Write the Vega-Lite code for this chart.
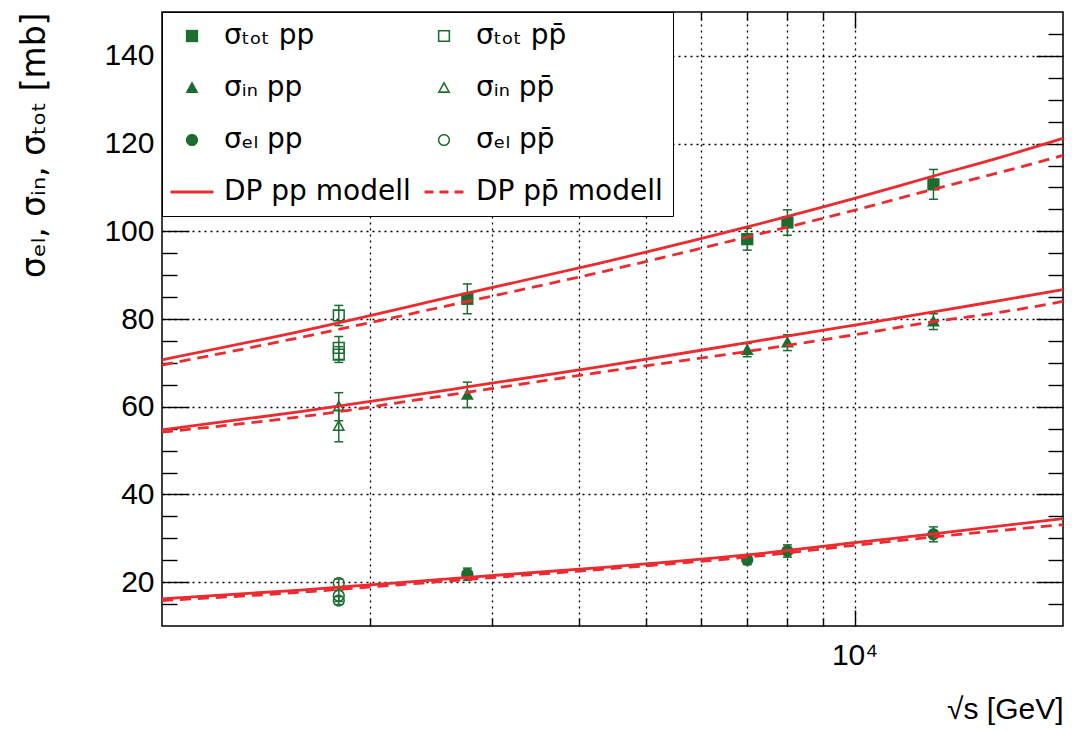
{
  "$schema": "https://vega.github.io/schema/vega-lite/v6.json",
  "width": 901,
  "height": 614,
  "autosize": "none",
  "padding": {"left": 162, "top": 12, "right": 9, "bottom": 105},
  "background": "white",
  "config": {
    "view": {"stroke": "black", "strokeWidth": 1.5},
    "font": "Liberation Sans",
    "axis": {
      "domain": false,
      "labelFont": "Liberation Sans",
      "labelFontSize": 30,
      "labelColor": "black",
      "tickColor": "black",
      "tickWidth": 1.4,
      "gridColor": "black",
      "gridDash": [2, 4],
      "gridWidth": 1.3,
      "gridOpacity": 1,
      "titleFont": "Liberation Sans",
      "titleFontWeight": "normal",
      "titleColor": "black"
    }
  },
  "resolve": {"axis": {"x": "independent", "y": "independent"}},
  "datasets": {
    "points": [
      {"series": "\u03c3\u209c\u2092\u209c pp", "coll": "pp", "s": 2760, "sigma": 84.6, "lo": 81.2, "hi": 88.0},
      {"series": "\u03c3\u209c\u2092\u209c pp", "coll": "pp", "s": 7000, "sigma": 98.2, "lo": 95.7, "hi": 100.7},
      {"series": "\u03c3\u209c\u2092\u209c pp", "coll": "pp", "s": 8000, "sigma": 102.0, "lo": 99.1, "hi": 104.9},
      {"series": "\u03c3\u209c\u2092\u209c pp", "coll": "pp", "s": 13000, "sigma": 110.7, "lo": 107.3, "hi": 114.1},
      {"series": "\u03c3\u209c\u2092\u209c pp\u0304", "coll": "ppbar", "s": 1800, "sigma": 80.8, "lo": 78.5, "hi": 83.1},
      {"series": "\u03c3\u209c\u2092\u209c pp\u0304", "coll": "ppbar", "s": 1800, "sigma": 73.4, "lo": 70.8, "hi": 76.0},
      {"series": "\u03c3\u209c\u2092\u209c pp\u0304", "coll": "ppbar", "s": 1800, "sigma": 71.9, "lo": 70.1, "hi": 73.7},
      {"series": "\u03c3\u1d62\u2099 pp", "coll": "pp", "s": 2760, "sigma": 62.7, "lo": 59.8, "hi": 65.6},
      {"series": "\u03c3\u1d62\u2099 pp", "coll": "pp", "s": 7000, "sigma": 72.9, "lo": 71.4, "hi": 74.4},
      {"series": "\u03c3\u1d62\u2099 pp", "coll": "pp", "s": 8000, "sigma": 74.6, "lo": 72.8, "hi": 76.4},
      {"series": "\u03c3\u1d62\u2099 pp", "coll": "pp", "s": 13000, "sigma": 79.4, "lo": 77.6, "hi": 81.2},
      {"series": "\u03c3\u1d62\u2099 pp\u0304", "coll": "ppbar", "s": 1800, "sigma": 60.0, "lo": 56.8, "hi": 63.2},
      {"series": "\u03c3\u1d62\u2099 pp\u0304", "coll": "ppbar", "s": 1800, "sigma": 55.6, "lo": 52.0, "hi": 59.2},
      {"series": "\u03c3\u2091\u2097 pp", "coll": "pp", "s": 2760, "sigma": 21.8, "lo": 20.4, "hi": 23.2},
      {"series": "\u03c3\u2091\u2097 pp", "coll": "pp", "s": 7000, "sigma": 25.1, "lo": 24.0, "hi": 26.2},
      {"series": "\u03c3\u2091\u2097 pp", "coll": "pp", "s": 8000, "sigma": 27.1, "lo": 25.7, "hi": 28.5},
      {"series": "\u03c3\u2091\u2097 pp", "coll": "pp", "s": 13000, "sigma": 30.9, "lo": 29.2, "hi": 32.6},
      {"series": "\u03c3\u2091\u2097 pp\u0304", "coll": "ppbar", "s": 1800, "sigma": 19.8, "lo": 18.9, "hi": 20.7},
      {"series": "\u03c3\u2091\u2097 pp\u0304", "coll": "ppbar", "s": 1800, "sigma": 16.9, "lo": 15.6, "hi": 18.2},
      {"series": "\u03c3\u2091\u2097 pp\u0304", "coll": "ppbar", "s": 1800, "sigma": 15.8, "lo": 14.9, "hi": 16.7}
    ],
    "model": [
      {"coll": "pp", "q": "tot", "s": 1000, "sigma": 70.7},
      {"coll": "pp", "q": "tot", "s": 1585, "sigma": 77.2},
      {"coll": "pp", "q": "tot", "s": 2760, "sigma": 85.9},
      {"coll": "pp", "q": "tot", "s": 4276, "sigma": 92.7},
      {"coll": "pp", "q": "tot", "s": 7000, "sigma": 101.0},
      {"coll": "pp", "q": "tot", "s": 10000, "sigma": 107.5},
      {"coll": "pp", "q": "tot", "s": 13000, "sigma": 112.6},
      {"coll": "pp", "q": "tot", "s": 16200, "sigma": 116.8},
      {"coll": "pp", "q": "tot", "s": 20000, "sigma": 121.2},
      {"coll": "ppbar", "q": "tot", "s": 1000, "sigma": 69.5},
      {"coll": "ppbar", "q": "tot", "s": 1585, "sigma": 75.8},
      {"coll": "ppbar", "q": "tot", "s": 2760, "sigma": 84.0},
      {"coll": "ppbar", "q": "tot", "s": 4276, "sigma": 90.6},
      {"coll": "ppbar", "q": "tot", "s": 7000, "sigma": 98.7},
      {"coll": "ppbar", "q": "tot", "s": 10000, "sigma": 104.8},
      {"coll": "ppbar", "q": "tot", "s": 13000, "sigma": 109.6},
      {"coll": "ppbar", "q": "tot", "s": 16200, "sigma": 113.4},
      {"coll": "ppbar", "q": "tot", "s": 20000, "sigma": 117.3},
      {"coll": "pp", "q": "in", "s": 1000, "sigma": 54.7},
      {"coll": "pp", "q": "in", "s": 1585, "sigma": 58.9},
      {"coll": "pp", "q": "in", "s": 2760, "sigma": 64.5},
      {"coll": "pp", "q": "in", "s": 4276, "sigma": 69.1},
      {"coll": "pp", "q": "in", "s": 7000, "sigma": 74.6},
      {"coll": "pp", "q": "in", "s": 10000, "sigma": 78.6},
      {"coll": "pp", "q": "in", "s": 13000, "sigma": 81.6},
      {"coll": "pp", "q": "in", "s": 16200, "sigma": 84.2},
      {"coll": "pp", "q": "in", "s": 20000, "sigma": 86.7},
      {"coll": "ppbar", "q": "in", "s": 1000, "sigma": 54.2},
      {"coll": "ppbar", "q": "in", "s": 1585, "sigma": 57.7},
      {"coll": "ppbar", "q": "in", "s": 2760, "sigma": 63.3},
      {"coll": "ppbar", "q": "in", "s": 4276, "sigma": 67.8},
      {"coll": "ppbar", "q": "in", "s": 7000, "sigma": 72.6},
      {"coll": "ppbar", "q": "in", "s": 10000, "sigma": 76.4},
      {"coll": "ppbar", "q": "in", "s": 13000, "sigma": 79.4},
      {"coll": "ppbar", "q": "in", "s": 16200, "sigma": 81.5},
      {"coll": "ppbar", "q": "in", "s": 20000, "sigma": 84.0},
      {"coll": "pp", "q": "el", "s": 1000, "sigma": 16.2},
      {"coll": "pp", "q": "el", "s": 1585, "sigma": 18.2},
      {"coll": "pp", "q": "el", "s": 2000, "sigma": 19.4},
      {"coll": "pp", "q": "el", "s": 2760, "sigma": 21.1},
      {"coll": "pp", "q": "el", "s": 4450, "sigma": 23.5},
      {"coll": "pp", "q": "el", "s": 7000, "sigma": 26.2},
      {"coll": "pp", "q": "el", "s": 10000, "sigma": 29.0},
      {"coll": "pp", "q": "el", "s": 13000, "sigma": 31.0},
      {"coll": "pp", "q": "el", "s": 20000, "sigma": 34.5},
      {"coll": "ppbar", "q": "el", "s": 1000, "sigma": 15.8},
      {"coll": "ppbar", "q": "el", "s": 1585, "sigma": 17.7},
      {"coll": "ppbar", "q": "el", "s": 2000, "sigma": 18.9},
      {"coll": "ppbar", "q": "el", "s": 2760, "sigma": 20.6},
      {"coll": "ppbar", "q": "el", "s": 4450, "sigma": 23.1},
      {"coll": "ppbar", "q": "el", "s": 7000, "sigma": 25.7},
      {"coll": "ppbar", "q": "el", "s": 10000, "sigma": 28.4},
      {"coll": "ppbar", "q": "el", "s": 13000, "sigma": 30.3},
      {"coll": "ppbar", "q": "el", "s": 20000, "sigma": 33.1}
    ]
  },
  "layer": [
    {
      "data": {"name": "points"},
      "mark": {"type": "rule", "color": "#1b6d2f", "strokeWidth": 1.5},
      "encoding": {
        "x": {"field": "s", "type": "quantitative", "scale": {"type": "log", "domain": [1000, 20000], "nice": false},
          "axis": {"orient": "bottom", "values": [10000], "tickSize": -16, "labelExpr": "'10\u2074'", "labelPadding": 30, "grid": true,
            "title": "\u221as [GeV]", "titleAnchor": "end", "titleFontSize": 30, "titlePadding": 24}},
        "y": {"field": "lo", "type": "quantitative", "scale": {"domain": [10, 150], "nice": false, "zero": false},
          "axis": {"orient": "left", "values": [20, 40, 60, 80, 100, 120, 140], "tickSize": -27, "labelPadding": 35, "grid": true,
            "title": "\u03c3\u2091\u2097, \u03c3\u1d62\u2099, \u03c3\u209c\u2092\u209c [mb]", "titleFont": "DejaVu Sans", "titleAnchor": "end", "titleFontSize": 33, "titlePadding": 52}},
        "y2": {"field": "hi"}
      }
    },
    {
      "data": {"name": "points"},
      "mark": {"type": "tick", "orient": "horizontal", "color": "#1b6d2f", "size": 9, "thickness": 1.5, "opacity": 1},
      "encoding": {
        "x": {"field": "s", "type": "quantitative", "scale": {"type": "log", "domain": [1000, 20000], "nice": false},
          "axis": {"orient": "bottom", "values": [2000, 3000, 4000, 5000, 6000, 7000, 8000, 9000], "tickSize": -8, "labels": false, "grid": true, "title": null}},
        "y": {"field": "lo", "type": "quantitative", "scale": {"domain": [10, 150], "nice": false, "zero": false},
          "axis": {"orient": "left", "values": [15, 25, 30, 35, 45, 50, 55, 65, 70, 75, 85, 90, 95, 105, 110, 115, 125, 130, 135, 145], "tickSize": -15, "labels": false, "grid": false, "title": null}}
      }
    },
    {
      "data": {"name": "points"},
      "mark": {"type": "tick", "orient": "horizontal", "color": "#1b6d2f", "size": 9, "thickness": 1.5, "opacity": 1},
      "encoding": {
        "x": {"field": "s", "type": "quantitative", "scale": {"type": "log", "domain": [1000, 20000], "nice": false},
          "axis": {"orient": "top", "values": [10000], "tickSize": -16, "labels": false, "grid": false, "title": null}},
        "y": {"field": "hi", "type": "quantitative", "scale": {"domain": [10, 150], "nice": false, "zero": false},
          "axis": {"orient": "right", "values": [20, 40, 60, 80, 100, 120, 140], "tickSize": -27, "labels": false, "grid": false, "title": null}}
      }
    },
    {
      "data": {"name": "points"},
      "transform": [{"filter": "datum.coll == 'pp'"}],
      "mark": {"type": "point", "filled": true, "size": 150, "opacity": 1},
      "encoding": {
        "x": {"field": "s", "type": "quantitative", "scale": {"type": "log", "domain": [1000, 20000], "nice": false},
          "axis": {"orient": "top", "values": [2000, 3000, 4000, 5000, 6000, 7000, 8000, 9000], "tickSize": -8, "labels": false, "grid": false, "title": null}},
        "y": {"field": "sigma", "type": "quantitative", "scale": {"domain": [10, 150], "nice": false, "zero": false},
          "axis": {"orient": "right", "values": [15, 25, 30, 35, 45, 50, 55, 65, 70, 75, 85, 90, 95, 105, 110, 115, 125, 130, 135, 145], "tickSize": -15, "labels": false, "grid": false, "title": null}},
        "color": {"field": "series", "type": "nominal",
          "scale": {"domain": ["\u03c3\u209c\u2092\u209c pp", "\u03c3\u1d62\u2099 pp", "\u03c3\u2091\u2097 pp", "DP pp modell", "\u03c3\u209c\u2092\u209c pp\u0304", "\u03c3\u1d62\u2099 pp\u0304", "\u03c3\u2091\u2097 pp\u0304", "DP pp\u0304 modell"],
            "range": ["#1b6d2f", "#1b6d2f", "#1b6d2f", "#ec2a2f", "#1b6d2f", "#1b6d2f", "#1b6d2f", "#ec2a2f"]},
          "legend": {"title": null, "orient": "top-left", "offset": 0, "columns": 2, "padding": 10, "columnPadding": 10, "rowPadding": 24,
            "symbolSize": 150, "symbolOffset": 6, "labelOffset": 18, "labelFont": "DejaVu Sans", "labelFontSize": 28,
            "labelColor": "black", "labelLimit": 500, "labelBaseline": "middle", "strokeColor": "black", "fillColor": "white", "gridAlign": "each", "symbolOpacity": 1}},
        "shape": {"field": "series", "type": "nominal",
          "scale": {"domain": ["\u03c3\u209c\u2092\u209c pp", "\u03c3\u1d62\u2099 pp", "\u03c3\u2091\u2097 pp", "DP pp modell", "\u03c3\u209c\u2092\u209c pp\u0304", "\u03c3\u1d62\u2099 pp\u0304", "\u03c3\u2091\u2097 pp\u0304", "DP pp\u0304 modell"],
            "range": ["M-1,-1H1V1H-1Z", "M0,-1.1L1.05,0.8H-1.05Z", "M1,0A1,1 0 1,1 -1,0A1,1 0 1,1 1,0Z", "M-3.5,-0.245H3.5V0.245H-3.5Z",
              "M-1,-1H1V1H-1ZM-0.75,-0.75V0.75H0.75V-0.75Z", "M0,-1.1L1.05,0.8H-1.05ZM0,-0.582L-0.626,0.55H0.626Z", "M1,0A1,1 0 1,1 -1,0A1,1 0 1,1 1,0ZM0.75,0A0.75,0.75 0 1,0 -0.75,0A0.75,0.75 0 1,0 0.75,0Z", "M-3.18,-0.245H-1.71V0.245H-3.18ZM-0.735,-0.245H0.735V0.245H-0.735ZM1.71,-0.245H3.18V0.245H1.71Z"]},
          "legend": {"title": null, "orient": "top-left", "offset": 0, "columns": 2, "padding": 10, "columnPadding": 10, "rowPadding": 24,
            "symbolSize": 150, "symbolOffset": 6, "labelOffset": 18, "labelFont": "DejaVu Sans", "labelFontSize": 28,
            "labelColor": "black", "labelLimit": 500, "labelBaseline": "middle", "strokeColor": "black", "fillColor": "white", "gridAlign": "each", "symbolOpacity": 1}}
      }
    },
    {
      "data": {"name": "points"},
      "transform": [{"filter": "datum.coll == 'ppbar'"}],
      "mark": {"type": "point", "filled": true, "size": 150, "opacity": 1},
      "encoding": {
        "x": {"field": "s", "type": "quantitative", "scale": {"type": "log", "domain": [1000, 20000], "nice": false}, "axis": null},
        "y": {"field": "sigma", "type": "quantitative", "scale": {"domain": [10, 150], "nice": false, "zero": false}, "axis": null},
        "color": {"field": "series", "type": "nominal",
          "scale": {"domain": ["\u03c3\u209c\u2092\u209c pp", "\u03c3\u1d62\u2099 pp", "\u03c3\u2091\u2097 pp", "DP pp modell", "\u03c3\u209c\u2092\u209c pp\u0304", "\u03c3\u1d62\u2099 pp\u0304", "\u03c3\u2091\u2097 pp\u0304", "DP pp\u0304 modell"],
            "range": ["#1b6d2f", "#1b6d2f", "#1b6d2f", "#ec2a2f", "#1b6d2f", "#1b6d2f", "#1b6d2f", "#ec2a2f"]},
          "legend": {"title": null, "orient": "top-left", "offset": 0, "columns": 2, "padding": 10, "columnPadding": 10, "rowPadding": 24,
            "symbolSize": 150, "symbolOffset": 6, "labelOffset": 18, "labelFont": "DejaVu Sans", "labelFontSize": 28,
            "labelColor": "black", "labelLimit": 500, "labelBaseline": "middle", "strokeColor": "black", "fillColor": "white", "gridAlign": "each", "symbolOpacity": 1}},
        "shape": {"field": "series", "type": "nominal",
          "scale": {"domain": ["\u03c3\u209c\u2092\u209c pp", "\u03c3\u1d62\u2099 pp", "\u03c3\u2091\u2097 pp", "DP pp modell", "\u03c3\u209c\u2092\u209c pp\u0304", "\u03c3\u1d62\u2099 pp\u0304", "\u03c3\u2091\u2097 pp\u0304", "DP pp\u0304 modell"],
            "range": ["M-1,-1H1V1H-1Z", "M0,-1.1L1.05,0.8H-1.05Z", "M1,0A1,1 0 1,1 -1,0A1,1 0 1,1 1,0Z", "M-3.5,-0.245H3.5V0.245H-3.5Z",
              "M-1,-1H1V1H-1ZM-0.75,-0.75V0.75H0.75V-0.75Z", "M0,-1.1L1.05,0.8H-1.05ZM0,-0.582L-0.626,0.55H0.626Z", "M1,0A1,1 0 1,1 -1,0A1,1 0 1,1 1,0ZM0.75,0A0.75,0.75 0 1,0 -0.75,0A0.75,0.75 0 1,0 0.75,0Z", "M-3.18,-0.245H-1.71V0.245H-3.18ZM-0.735,-0.245H0.735V0.245H-0.735ZM1.71,-0.245H3.18V0.245H1.71Z"]},
          "legend": {"title": null, "orient": "top-left", "offset": 0, "columns": 2, "padding": 10, "columnPadding": 10, "rowPadding": 24,
            "symbolSize": 150, "symbolOffset": 6, "labelOffset": 18, "labelFont": "DejaVu Sans", "labelFontSize": 28,
            "labelColor": "black", "labelLimit": 500, "labelBaseline": "middle", "strokeColor": "black", "fillColor": "white", "gridAlign": "each", "symbolOpacity": 1}}
      }
    },
    {
      "data": {"name": "model"},
      "transform": [{"filter": "datum.coll == 'pp'"}],
      "mark": {"type": "line", "color": "#ec2a2f", "strokeWidth": 2.8, "interpolate": "monotone"},
      "encoding": {
        "x": {"field": "s", "type": "quantitative", "scale": {"type": "log", "domain": [1000, 20000], "nice": false}, "axis": null},
        "y": {"field": "sigma", "type": "quantitative", "scale": {"domain": [10, 150], "nice": false, "zero": false}, "axis": null},
        "detail": {"field": "q"}
      }
    },
    {
      "data": {"name": "model"},
      "transform": [{"filter": "datum.coll == 'ppbar'"}],
      "mark": {"type": "line", "color": "#ec2a2f", "strokeWidth": 2.8, "strokeDash": [11, 7], "interpolate": "monotone"},
      "encoding": {
        "x": {"field": "s", "type": "quantitative", "scale": {"type": "log", "domain": [1000, 20000], "nice": false}, "axis": null},
        "y": {"field": "sigma", "type": "quantitative", "scale": {"domain": [10, 150], "nice": false, "zero": false}, "axis": null},
        "detail": {"field": "q"}
      }
    }
  ]
}
